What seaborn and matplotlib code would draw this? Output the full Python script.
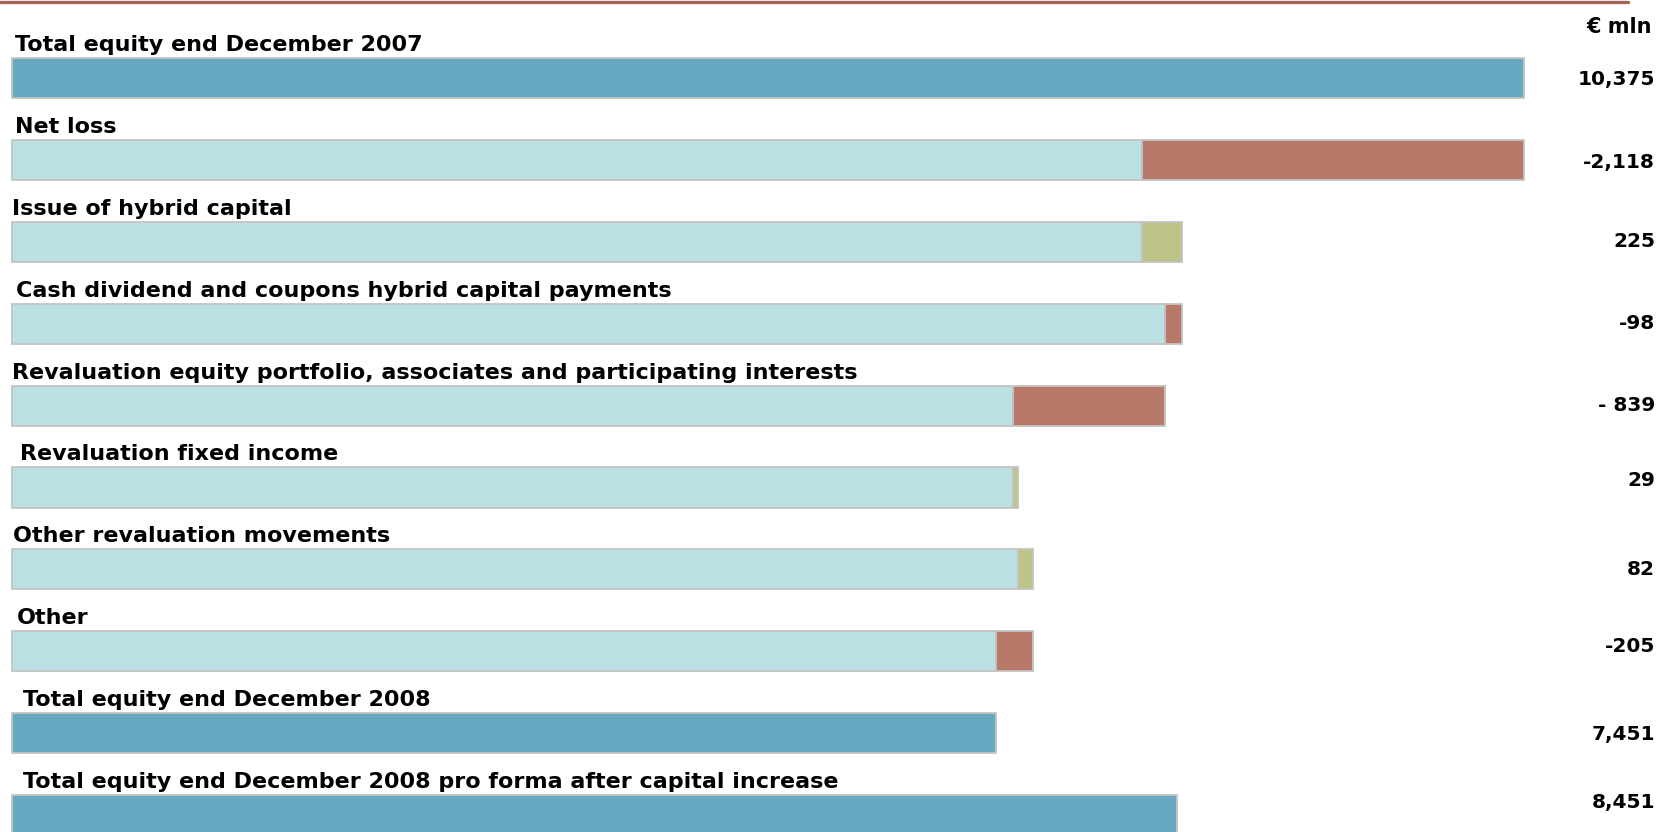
import numpy as np
import pandas as pd
import matplotlib
matplotlib.use("Agg")
import matplotlib.pyplot as plt
from matplotlib.transforms import blended_transform_factory
from matplotlib.lines import Line2D
import seaborn as sns

# ---- data (EUR mln) ----
categories = [
    "Total equity end December 2007",
    "Net loss",
    "Issue of hybrid capital",
    "Cash dividend and coupons hybrid capital payments",
    "Revaluation equity portfolio, associates and participating interests",
    "Revaluation fixed income",
    "Other revaluation movements",
    "Other",
    "Total equity end December 2008",
    "Total equity end December 2008 pro forma after capital increase",
]
opening_total = 10375
movements = [-2118, 225, -98, -839, 29, 82, -205]
closing_total = 7451
pro_forma_total = 8451
value_labels = ["10,375", "-2,118", "225", "-98", "- 839", "29", "82", "-205",
                "7,451", "8,451"]
axis_start = 2000

# ---- styling ----
TOTAL_COLOR = "#65a8bf"
BASE_COLOR = "#bbe0e3"
DOWN_COLOR = "#b8796a"
UP_COLOR = "#bec387"
EDGE_COLOR = "#c4c4c4"
RULE_COLOR = "#a3655b"
label_x_px = [15, 15, 12, 16, 12, 20, 13, 17, 23, 23]
value_dy_px = [2, 3, 0, 0, 0, -7, 0, -5, 1, -13]

sns.set_theme(style="white")
plt.rcParams["font.family"] = ["DejaVu Sans"]

W, H = 1660, 832
fig = plt.figure(figsize=(W / 100, H / 100), dpi=100)
ax = fig.add_axes([0, 0, 1, 1])

# ---- waterfall geometry ----
levels = opening_total + np.cumsum(movements)
before = np.concatenate([[opening_total], levels[:-1]])
after = levels

mov_cats = categories[1:8]
total_cats = [categories[0], categories[8], categories[9]]
total_vals = np.array([opening_total, closing_total, pro_forma_total])

bar_kws = dict(order=categories, orient="h", width=0.49, saturation=1,
               errorbar=None, edgecolor=EDGE_COLOR, linewidth=1.3, ax=ax)

# totals
sns.barplot(x=total_vals - axis_start, y=total_cats, color=TOTAL_COLOR,
            left=np.full(3, axis_start), **bar_kws)

# invisible base of each movement
base_top = np.minimum(before, after)
sns.barplot(x=base_top - axis_start, y=mov_cats, color=BASE_COLOR,
            left=np.full(len(mov_cats), axis_start), **bar_kws)

mov = np.array(movements)
down = mov < 0
up = mov > 0
sns.barplot(x=-mov[down], y=[c for c, d in zip(mov_cats, down) if d],
            color=DOWN_COLOR, left=after[down], **bar_kws)
sns.barplot(x=mov[up], y=[c for c, u in zip(mov_cats, up) if u],
            color=UP_COLOR, left=before[up], **bar_kws)

# ---- axes frame: map pixel layout ----
units_per_px = (opening_total - axis_start) / (1524 - 12)
ax.set_xlim(axis_start - 12 * units_per_px, axis_start + (W - 12) * units_per_px)
row_px = 81.9
first_px = 78
ax.set_ylim((H - first_px) / row_px, -first_px / row_px)
ax.axis("off")

trans = blended_transform_factory(ax.transAxes, ax.transData)
for i, (cat, lx) in enumerate(zip(categories, label_x_px)):
    ax.text(lx / W, i - 0.245 - 7 / row_px, cat, transform=trans,
            ha="left", va="baseline", fontsize=16, fontweight="bold",
            color="black")

for i, (lab, dy) in enumerate(zip(value_labels, value_dy_px)):
    ax.text(1655 / W, i + dy / row_px, lab, transform=trans, ha="right",
            va="center", fontsize=14.5, fontweight="bold", color="black")

fig.text(1652 / W, 1 - 27 / H, "€ mln", ha="right", va="center",
         fontsize=15, fontweight="bold", color="black")

fig.add_artist(Line2D([0, 1628 / W], [1 - 1.5 / H, 1 - 1.5 / H],
                      transform=fig.transFigure, color=RULE_COLOR, lw=2.4))

fig.savefig("out.png", dpi=100)
